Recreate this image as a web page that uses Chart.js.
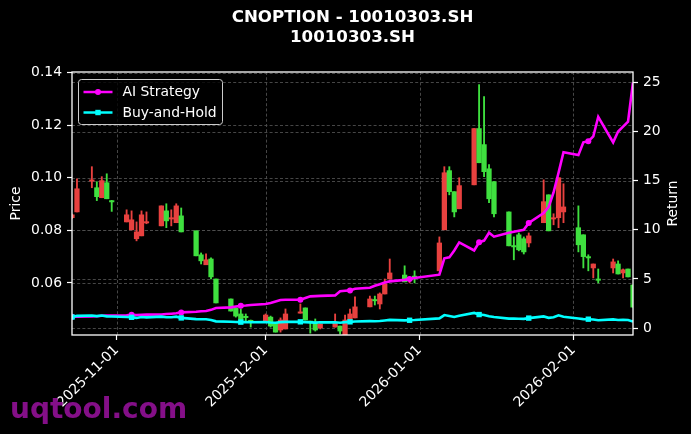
<!DOCTYPE html>
<html>
<head>
<meta charset="utf-8">
<script src="https://cdn.jsdelivr.net/npm/chart.js@4.4.1/dist/chart.umd.min.js"></script>
<style>
html,body{margin:0;padding:0;background:#000;}
#wrap{width:691px;height:434px;position:relative;}
</style>
</head>
<body>
<div id="wrap"><canvas id="c" width="691" height="434"></canvas></div>
<script>
// ---------------- DATA ----------------
const dates = [
 '2025-10-23','2025-10-24','2025-10-27','2025-10-28','2025-10-29','2025-10-30','2025-10-31',
 '2025-11-03','2025-11-04','2025-11-05','2025-11-06','2025-11-07',
 '2025-11-10','2025-11-11','2025-11-12','2025-11-13','2025-11-14',
 '2025-11-17','2025-11-18','2025-11-19','2025-11-20','2025-11-21',
 '2025-11-24','2025-11-25','2025-11-26','2025-11-27','2025-11-28',
 '2025-12-01','2025-12-02','2025-12-03','2025-12-04','2025-12-05',
 '2025-12-08','2025-12-09','2025-12-10','2025-12-11','2025-12-12',
 '2025-12-15','2025-12-16','2025-12-17','2025-12-18','2025-12-19',
 '2025-12-22','2025-12-23','2025-12-24','2025-12-25','2025-12-26',
 '2025-12-29','2025-12-30','2025-12-31',
 '2026-01-05','2026-01-06','2026-01-07','2026-01-08','2026-01-09',
 '2026-01-12','2026-01-13','2026-01-14','2026-01-15','2026-01-16',
 '2026-01-19','2026-01-20','2026-01-21','2026-01-22','2026-01-23',
 '2026-01-26','2026-01-27','2026-01-28','2026-01-29','2026-01-30',
 '2026-02-02','2026-02-03','2026-02-04','2026-02-05','2026-02-06',
 '2026-02-09','2026-02-10','2026-02-11','2026-02-12','2026-02-13'
];
const openP = [
 0.0848,0.0870,0.0987,0.0962,0.0924,0.0981,0.0910,
 0.0832,0.0802,0.0768,0.0779,0.0828,
 0.0817,0.0874,0.0843,0.0829,0.0855,
 0.0798,0.0707,0.0669,0.0691,0.0615,
 0.0539,0.0505,0.0482,0.0470,0.0455,
 0.0451,0.0470,0.0448,0.0421,0.0425,
 0.0485,0.0505,0.0452,0.0451,0.0429,
 0.0432,0.0436,0.0400,0.0459,0.0467,
 0.0509,0.0535,0.0520,0.0558,0.0615,
 0.0630,0.0610,0.0623,
 0.0646,0.0802,0.1027,0.0947,0.0882,
 0.0973,0.1187,0.1126,0.1034,0.0985,
 0.0870,0.0739,0.0783,0.0768,0.0752,
 0.0829,0.0935,0.0843,0.0848,0.0870,
 0.0810,0.0783,0.0697,0.0657,0.0612,
 0.0657,0.0672,0.0638,0.0653,0.0592
];
const highP = [
 0.0862,0.0996,0.1042,0.0985,0.1004,0.1015,0.0914,
 0.0878,0.0874,0.0832,0.0874,0.0870,
 0.0893,0.0901,0.0878,0.0901,0.0885,
 0.0798,0.0714,0.0711,0.0695,0.0615,
 0.0539,0.0505,0.0501,0.0482,0.0459,
 0.0482,0.0474,0.0448,0.0467,0.0501,
 0.0520,0.0505,0.0455,0.0463,0.0444,
 0.0482,0.0436,0.0478,0.0501,0.0547,
 0.0550,0.0550,0.0562,0.0615,0.0691,
 0.0665,0.0615,0.0646,
 0.0775,0.1042,0.1042,0.0947,0.1000,
 0.1187,0.1354,0.1309,0.1050,0.0985,
 0.0870,0.0775,0.0790,0.0775,0.0790,
 0.0992,0.0935,0.0863,0.1000,0.0977,
 0.0893,0.0783,0.0707,0.0672,0.0653,
 0.0691,0.0684,0.0653,0.0653,0.0592
];
const lowP = [
 0.0845,0.0870,0.0962,0.0913,0.0924,0.0920,0.0872,
 0.0832,0.0802,0.0760,0.0779,0.0825,
 0.0817,0.0810,0.0817,0.0829,0.0794,
 0.0703,0.0672,0.0669,0.0615,0.0524,
 0.0493,0.0470,0.0455,0.0451,0.0432,
 0.0451,0.0432,0.0413,0.0413,0.0425,
 0.0485,0.0459,0.0409,0.0417,0.0425,
 0.0432,0.0406,0.0400,0.0459,0.0467,
 0.0509,0.0516,0.0501,0.0558,0.0615,
 0.0604,0.0600,0.0600,
 0.0646,0.0802,0.0935,0.0851,0.0882,
 0.0973,0.1057,0.1004,0.0905,0.0851,
 0.0741,0.0688,0.0722,0.0710,0.0737,
 0.0829,0.0798,0.0821,0.0810,0.0829,
 0.0718,0.0657,0.0646,0.0619,0.0600,
 0.0638,0.0634,0.0619,0.0623,0.0508
];
const closeP = [
 0.0859,0.0958,0.0989,0.0928,0.0989,0.0920,0.0908,
 0.0859,0.0840,0.0794,0.0859,0.0830,
 0.0893,0.0836,0.0845,0.0893,0.0794,
 0.0703,0.0684,0.0688,0.0623,0.0524,
 0.0493,0.0474,0.0459,0.0468,0.0453,
 0.0478,0.0436,0.0413,0.0459,0.0482,
 0.0487,0.0459,0.0450,0.0421,0.0444,
 0.0448,0.0417,0.0459,0.0482,0.0509,
 0.0539,0.0532,0.0558,0.0596,0.0638,
 0.0604,0.0612,0.0621,
 0.0752,0.1019,0.0947,0.0870,0.0970,
 0.1187,0.1057,0.1023,0.0920,0.0863,
 0.0741,0.0737,0.0726,0.0718,0.0779,
 0.0909,0.0798,0.0845,0.1000,0.0889,
 0.0745,0.0700,0.0695,0.0672,0.0610,
 0.0680,0.0634,0.0650,0.0623,0.0508
];
const aiStrategy = [
 1.15,1.16,1.18,1.20,1.25,1.28,1.28,
 1.30,1.35,1.33,1.34,1.36,
 1.38,1.42,1.46,1.50,1.59,
 1.65,1.70,1.74,1.85,2.04,
 2.10,2.20,2.27,2.30,2.35,
 2.45,2.55,2.70,2.85,2.88,
 2.88,3.05,3.22,3.25,3.27,
 3.32,3.75,3.80,3.83,4.00,
 4.10,4.30,4.45,4.64,4.75,
 4.90,4.99,5.10,
 5.43,7.10,7.19,7.90,8.72,
 7.90,8.72,8.90,9.70,9.30,
 9.70,9.80,9.90,10.00,10.70,
 11.70,12.30,13.80,15.80,17.90,
 17.60,18.90,19.00,19.50,21.50,
 18.90,20.00,20.50,21.00,25.00
];
const buyHold = [
 1.12,1.24,1.28,1.21,1.28,1.19,1.18,
 1.12,1.09,1.03,1.12,1.08,
 1.16,1.09,1.10,1.16,1.03,
 0.91,0.89,0.89,0.81,0.68,
 0.64,0.62,0.60,0.61,0.59,
 0.62,0.57,0.54,0.60,0.63,
 0.63,0.60,0.58,0.55,0.58,
 0.58,0.54,0.60,0.63,0.66,
 0.70,0.69,0.72,0.77,0.83,
 0.78,0.79,0.81,
 0.98,1.32,1.23,1.13,1.26,
 1.54,1.37,1.33,1.19,1.12,
 0.96,0.96,0.94,0.93,1.01,
 1.18,1.04,1.10,1.30,1.15,
 0.97,0.91,0.90,0.87,0.79,
 0.88,0.82,0.84,0.81,0.66
];
const priceTicks = [0.06, 0.08, 0.10, 0.12, 0.14];
const returnTicks = [0, 5, 10, 15, 20, 25];
const monthTicks = ['2025-11-01', '2025-12-01', '2026-01-01', '2026-02-01'];
const seriesNames = ['AI Strategy', 'Buy-and-Hold'];
const titleLines = ['CNOPTION - 10010303.SH', '10010303.SH'];

// ---------------- HELPERS ----------------
function dayOf(s) {
  const p = s.split('-').map(Number);
  return (Date.UTC(p[0], p[1] - 1, p[2]) - Date.UTC(2025, 10, 1)) / 86400000;
}
const xs = dates.map(dayOf);
const UP = '#e8413f', DOWN = '#3fe03f';
const candleColors = dates.map((d, i) => closeP[i] >= openP[i] ? UP : DOWN);
const tickLabelMap = {};
monthTicks.forEach(m => { tickLabelMap[dayOf(m)] = m; });

const FONT = 'DejaVu Sans';
const GRID = '#4e4e4e';
const MAG = '#ff00ff', CYAN = '#00ffff';

const extras = {
  id: 'extras',
  beforeDatasetsDraw(chart) {
    const {ctx, chartArea: a, scales} = chart;
    ctx.save();
    ctx.strokeStyle = GRID;
    ctx.lineWidth = 0.9;
    ctx.setLineDash([3, 2.2]);
    const hline = y => { y = Math.round(y) + 0.5; ctx.beginPath(); ctx.moveTo(a.left, y); ctx.lineTo(a.right, y); ctx.stroke(); };
    monthTicks.forEach(m => {
      const x = Math.round(scales.x.getPixelForValue(dayOf(m))) + 0.5;
      ctx.beginPath(); ctx.moveTo(x, a.top); ctx.lineTo(x, a.bottom); ctx.stroke();
    });
    priceTicks.forEach(v => hline(scales.y.getPixelForValue(v)));
    returnTicks.forEach(v => hline(scales.y1.getPixelForValue(v)));
    ctx.restore();
  },
  afterDatasetsDraw(chart) {
    const {ctx, chartArea: a} = chart;
    ctx.save();
    ctx.strokeStyle = '#ffffff';
    ctx.lineWidth = 1.3;
    ctx.strokeRect(a.left, a.top, a.right - a.left, a.bottom - a.top);
    ctx.restore();
  },
  afterDraw(chart) {
    const {ctx, chartArea: a} = chart;
    ctx.save();
    // legend box
    const bx = a.left + 6.5, by = a.top + 7.5, bw = 144, bh = 45, r = 3;
    ctx.beginPath();
    ctx.moveTo(bx + r, by);
    ctx.arcTo(bx + bw, by, bx + bw, by + bh, r);
    ctx.arcTo(bx + bw, by + bh, bx, by + bh, r);
    ctx.arcTo(bx, by + bh, bx, by, r);
    ctx.arcTo(bx, by, bx + bw, by, r);
    ctx.closePath();
    ctx.fillStyle = 'rgba(0,0,0,0.8)';
    ctx.fill();
    ctx.strokeStyle = '#cccccc';
    ctx.lineWidth = 1;
    ctx.stroke();
    const ds = chart.data.datasets.filter(d => d.type === 'line');
    ds.forEach((d, i) => {
      const y = by + 12.5 + i * 20.5;
      ctx.strokeStyle = d.borderColor;
      ctx.lineWidth = 2.5;
      ctx.beginPath();
      ctx.moveTo(bx + 5, y);
      ctx.lineTo(bx + 34, y);
      ctx.stroke();
      ctx.fillStyle = d.borderColor;
      if (d.pointStyle === 'rect') {
        ctx.fillRect(bx + 19.5 - 2.7, y - 2.7, 5.4, 5.4);
      } else {
        ctx.beginPath();
        ctx.arc(bx + 19.5, y, 3, 0, Math.PI * 2);
        ctx.fill();
      }
      ctx.fillStyle = '#ffffff';
      ctx.font = '13.9px "' + FONT + '"';
      ctx.textAlign = 'left';
      ctx.textBaseline = 'middle';
      ctx.fillText(d.label, bx + 44, y + 0.5);
    });
    // right axis title
    ctx.save();
    ctx.translate(673, (a.top + a.bottom) / 2);
    ctx.rotate(-Math.PI / 2);
    ctx.fillStyle = '#ffffff';
    ctx.font = '13.9px "' + FONT + '"';
    ctx.textAlign = 'center';
    ctx.textBaseline = 'middle';
    ctx.fillText('Return', 0, 0);
    ctx.restore();
    // watermark
    ctx.fillStyle = '#840f88';
    ctx.font = 'bold 28px "' + FONT + '"';
    ctx.textAlign = 'left';
    ctx.textBaseline = 'alphabetic';
    ctx.fillText('uqtool.com', 10, 418);
    ctx.restore();
  }
};

const gridCommon = {drawOnChartArea: false, color: GRID, tickColor: '#ffffff', tickLength: 5, tickWidth: 1.2};

new Chart(document.getElementById('c'), {
  type: 'bar',
  data: {
    datasets: [
      {
        label: 'wick', type: 'bar', yAxisID: 'y', xAxisID: 'x', grouped: false,
        data: xs.map((x, i) => ({x: x, y: [lowP[i], highP[i]]})),
        backgroundColor: candleColors, barThickness: 1.2, minBarLength: 1, order: 4
      },
      {
        label: 'body', type: 'bar', yAxisID: 'y', xAxisID: 'x', grouped: false,
        data: xs.map((x, i) => ({x: x, y: [openP[i], closeP[i]]})),
        backgroundColor: candleColors, barThickness: 4.6, minBarLength: 1.3, order: 3
      },
      {
        label: seriesNames[0], type: 'line', yAxisID: 'y1', xAxisID: 'x',
        data: xs.map((x, i) => ({x: x, y: aiStrategy[i]})),
        borderColor: MAG, backgroundColor: MAG, borderWidth: 2.6, tension: 0,
        pointStyle: 'circle', pointBorderWidth: 0,
        pointRadius: c => c.dataIndex % 8 === 0 ? 3 : 0, order: 2
      },
      {
        label: seriesNames[1], type: 'line', yAxisID: 'y1', xAxisID: 'x',
        data: xs.map((x, i) => ({x: x, y: buyHold[i]})),
        borderColor: CYAN, backgroundColor: CYAN, borderWidth: 2.6, tension: 0,
        pointStyle: 'rect', pointBorderWidth: 0,
        pointRadius: c => c.dataIndex % 8 === 0 ? 3.8 : 0, order: 1
      }
    ]
  },
  options: {
    responsive: false, animation: false, devicePixelRatio: 1,
    layout: {padding: 0},
    plugins: {
      legend: {display: false}, tooltip: {enabled: false},
      title: {
        display: true, text: titleLines, color: '#ffffff', fullSize: false,
        font: {family: FONT, size: 16.67, weight: 'bold', lineHeight: 1.2},
        padding: {top: 8, bottom: 24}
      }
    },
    scales: {
      x: {
        type: 'linear', position: 'bottom', offset: false,
        min: xs[0], max: xs[xs.length - 1],
        afterBuildTicks: s => { s.ticks = monthTicks.map(m => ({value: dayOf(m)})); },
        afterFit: s => { s.height = 99; },
        grid: Object.assign({offset: false}, gridCommon),
        border: {display: false},
        ticks: {color: '#ffffff', font: {family: FONT, size: 13.9}, maxRotation: 45, minRotation: 45,
          autoSkip: false, padding: 2, callback: v => tickLabelMap[v] || ''}
      },
      y: {
        type: 'linear', position: 'left', min: 0.0402, max: 0.1402,
        afterBuildTicks: s => { s.ticks = priceTicks.map(v => ({value: v})); },
        afterFit: s => { s.width = 72; },
        grid: gridCommon,
        border: {display: false},
        ticks: {color: '#ffffff', font: {family: FONT, size: 13.9}, padding: 5, callback: v => Number(v).toFixed(2)},
        title: {display: true, text: 'Price', color: '#ffffff', font: {family: FONT, size: 13.9}, padding: {top: 8, bottom: 0}}
      },
      y1: {
        type: 'linear', position: 'right', min: -0.71, max: 26.06,
        afterBuildTicks: s => { s.ticks = returnTicks.map(v => ({value: v})); },
        afterFit: s => { s.width = 58; },
        grid: gridCommon,
        border: {display: false},
        ticks: {color: '#ffffff', font: {family: FONT, size: 13.9}, padding: 5, callback: v => String(v)}
      }
    }
  },
  plugins: [extras]
});
</script>
</body>
</html>
